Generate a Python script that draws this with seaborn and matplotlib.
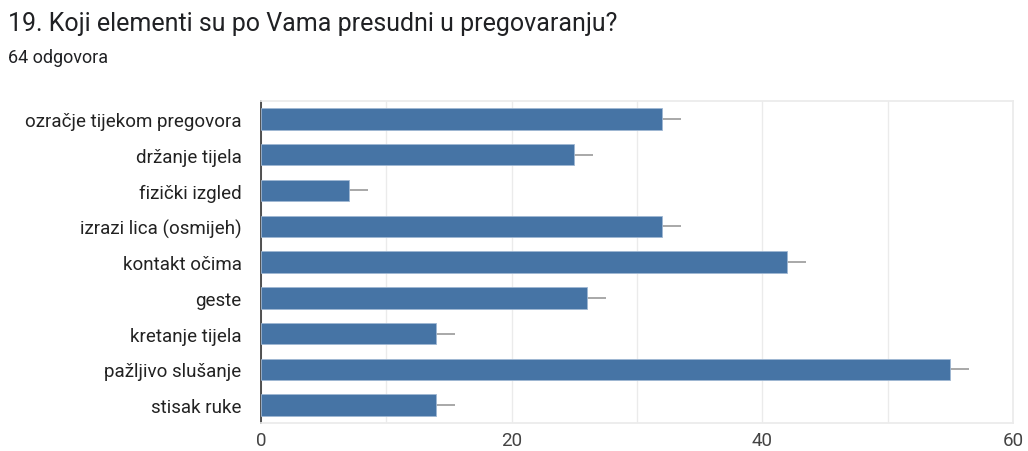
import matplotlib
matplotlib.use("Agg")
import matplotlib.pyplot as plt
import seaborn as sns
import pandas as pd

TITLE = "19. Koji elementi su po Vama presudni u pregovaranju?"
SUBTITLE = "64 odgovora"
categories = [
    "ozračje tijekom pregovora",
    "držanje tijela",
    "fizički izgled",
    "izrazi lica (osmijeh)",
    "kontakt očima",
    "geste",
    "kretanje tijela",
    "pažljivo slušanje",
    "stisak ruke",
]
counts = [32, 25, 7, 32, 42, 26, 14, 55, 14]
x_ticks = [0, 20, 40, 60]

BAR_COLOR = "#4674a5"
WHISKER = 1.5  # short grey tick after each bar, like the forms chart

df = pd.DataFrame({"element": categories, "count": counts})

sns.set_theme(style="white")
plt.rcParams["font.family"] = ["Roboto", "DejaVu Sans"]

fig = plt.figure(figsize=(10.28, 4.52), dpi=100)
ax = fig.add_axes([0.2539, 0.0619, 0.7315, 0.7124])

sns.barplot(data=df, x="count", y="element", orient="h", color=BAR_COLOR,
            width=0.6, saturation=1, ax=ax, zorder=3)
for p in ax.patches:
    p.set_edgecolor("#9fb7d3")
    p.set_linewidth(0.6)

ax.errorbar(df["count"], range(len(df)),
            xerr=[[0] * len(df), [WHISKER] * len(df)],
            fmt="none", ecolor="#9a9a9a", elinewidth=1.2, capsize=0, zorder=2)

ax.set_xlim(0, 60)
ax.set_ylim(len(df) - 0.5, -0.5)
ax.set_xticks(range(0, 61, 10))
ax.set_xticklabels([str(t) if t in x_ticks else "" for t in range(0, 61, 10)])
ax.grid(axis="x", color="#ebebeb", linewidth=1, zorder=0)
ax.set_xlabel("")
ax.set_ylabel("")
ax.tick_params(axis="x", length=0, labelsize=13.5, labelcolor="#444444", pad=6)
ax.tick_params(axis="y", length=0, labelsize=13.5, labelcolor="#222222", pad=14)

for side in ["top", "right", "bottom"]:
    ax.spines[side].set_color("#ebebeb")
ax.spines["left"].set_color("#333333")
ax.spines["left"].set_linewidth(1.2)

fig.text(0.008, 0.948, TITLE, fontsize=18, color="#202124", va="center", ha="left")
fig.text(0.008, 0.872, SUBTITLE, fontsize=13, color="#202124", va="center", ha="left")

fig.savefig("out.png", dpi=100, facecolor="white")
